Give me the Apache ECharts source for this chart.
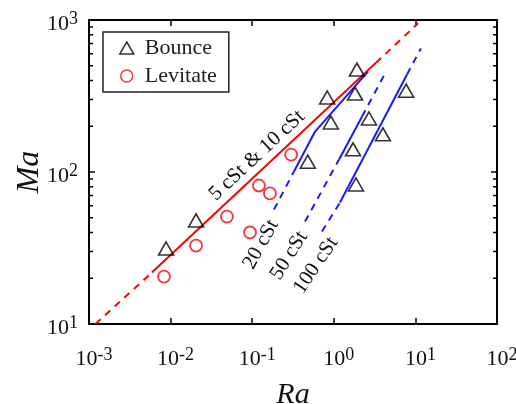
<!DOCTYPE html>
<html><head><meta charset="utf-8">
<script src="https://cdn.jsdelivr.net/npm/echarts@6/dist/echarts.min.js"></script>
<style>html,body{margin:0;padding:0;background:#fff}#c{width:516px;height:404px}</style>
</head><body><div id="c"></div>
<script>
// ---- data ----
const bounceRa = [0.0088, 0.0205, 0.48, 0.83, 0.92, 1.72, 1.82, 1.87, 1.92, 2.7, 4.0, 7.7];
const bounceMa = [31.4, 48, 117, 309, 212, 141, 328, 82.8, 472, 225, 177, 343];
const levRa = [0.0083, 0.0205, 0.049, 0.094, 0.121, 0.165, 0.30];
const levMa = [20.5, 32.8, 50.9, 40, 81.5, 72.3, 130];
// fit curves (Ra, Ma)
const fit5Dash1 = [[0.0012, 10], [0.0059, 21.8]];
const fit5Solid = [[0.0059, 21.8], [3.29, 523]];
const fit5Dash2 = [[3.29, 523], [10.8, 951]];
const fit20Dash = [[0.185, 56.6], [0.325, 100.8]];
const fit20Solid = [[0.325, 100.8], [0.589, 184.5], [2.62, 458]];
const fit50Dash1 = [[0.444, 47.2], [1.16, 120.8]];
const fit50Solid = [[1.16, 120.8], [2.22, 232]];
const fit50Dash2 = [[2.22, 232], [4.12, 431]];
const fit100Dash1 = [[0.716, 40.6], [1.19, 63]];
const fit100Solid = [[1.19, 63], [7.89, 438]];
const fit100Dash2 = [[7.89, 438], [11.7, 650]];
const yMinorTicks = [20, 30, 40, 50, 60, 70, 80, 90, 200, 300, 400, 500, 600, 700, 800, 900];
const lineLabels = [
  {text: '5 cSt & 10 cSt', ra: 0.1146, ma: 128.5, angle: 43},
  {text: '20 cSt', ra: 0.128, ma: 33.4, angle: 61},
  {text: '50 cSt', ra: 0.283, ma: 28.2, angle: 58},
  {text: '100 cSt', ra: 0.605, ma: 24.3, angle: 56}
];

const FONT = "'Liberation Serif','Times New Roman',serif";
const RED = '#ff0000', BLUE = '#1a1aff';
const chart = echarts.init(document.getElementById('c'), null, {renderer: 'canvas'});

function zipPts(a, b) { return a.map((v, i) => [v, b[i]]); }
function expLabel(v) { return '{b|10}{s|' + Math.round(Math.log10(v)) + '}'; }
const richLbl = {
  b: {fontSize: 22, fontFamily: FONT, color: '#111', lineHeight: 27},
  s: {fontSize: 18, fontFamily: FONT, color: '#111', verticalAlign: 'top', lineHeight: 17}
};
function lineSeries(data, color, dashed) {
  return {type: 'line', data: data, symbol: 'none', silent: true, z: 2,
    lineStyle: {color: color, width: 2, type: dashed ? [7, 6] : 'solid'}};
}
const axisCommon = {
  type: 'log', logBase: 10,
  axisLine: {show: true, onZero: false, lineStyle: {color: '#000', width: 2}},
  axisTick: {show: true, inside: true, length: 6, lineStyle: {color: '#000', width: 1.5}},
  splitLine: {show: false}
};

chart.setOption({
  animation: false,
  grid: {left: 89, right: 19, top: 20, bottom: 80, containLabel: false, outerBoundsMode: 'none'},
  legend: {
    orient: 'vertical', left: 103, top: 32,
    padding: [5, 12, 5, 16], itemGap: 6,
    borderColor: '#222', borderWidth: 1.5,
    itemWidth: 14, itemHeight: 12,
    textStyle: {fontFamily: FONT, fontSize: 22, color: '#222', padding: [0, 0, 0, 6]},
    data: [
      {name: 'Bounce', icon: 'triangle', itemStyle: {color: 'transparent', borderColor: '#000', borderWidth: 1.5}},
      {name: 'Levitate', icon: 'circle', itemStyle: {color: 'transparent', borderColor: RED, borderWidth: 1.5}}
    ]
  },
  xAxis: [
    Object.assign({}, axisCommon, {min: 0.001, max: 100, position: 'bottom',
      axisLabel: {formatter: expLabel, rich: richLbl, margin: 22, padding: [0, 0, 0, 10], showMinLabel: true, showMaxLabel: true},
      name: 'Ra', nameLocation: 'middle', nameGap: 56, nameMoveOverlap: false,
      nameTextStyle: {fontFamily: FONT, fontStyle: 'italic', fontSize: 30, color: '#111'}}),
    Object.assign({}, axisCommon, {min: 0.001, max: 100, position: 'top', axisLabel: {show: false}})
  ],
  yAxis: [
    Object.assign({}, axisCommon, {min: 10, max: 1000, position: 'left',
      axisLabel: {formatter: expLabel, rich: richLbl, margin: 11, padding: [8, 0, 0, 0], showMinLabel: true, showMaxLabel: true},
      name: 'Ma', nameLocation: 'middle', nameGap: 43, nameMoveOverlap: false,
      nameTextStyle: {fontFamily: FONT, fontStyle: 'italic', fontSize: 32, color: '#111'}}),
    Object.assign({}, axisCommon, {min: 10, max: 1000, position: 'right', axisLabel: {show: false}})
  ],
  series: [
    lineSeries(fit5Dash1, RED, true),
    lineSeries(fit5Solid, RED, false),
    lineSeries(fit5Dash2, RED, true),
    lineSeries(fit20Dash, BLUE, true),
    lineSeries(fit20Solid, BLUE, false),
    lineSeries(fit50Dash1, BLUE, true),
    lineSeries(fit50Solid, BLUE, false),
    lineSeries(fit50Dash2, BLUE, true),
    lineSeries(fit100Dash1, BLUE, true),
    lineSeries(fit100Solid, BLUE, false),
    lineSeries(fit100Dash2, BLUE, true),
    {name: 'Bounce', type: 'scatter', symbol: 'triangle', symbolSize: [15, 13], z: 3,
      itemStyle: {color: 'transparent', borderColor: '#000', borderWidth: 1.6},
      data: zipPts(bounceRa, bounceMa)},
    {name: 'Levitate', type: 'scatter', symbol: 'circle', symbolSize: 12, z: 3,
      itemStyle: {color: 'transparent', borderColor: RED, borderWidth: 1.8},
      data: zipPts(levRa, levMa)},
    {type: 'custom', silent: true, z: 4, clip: false,
      data: yMinorTicks.map(v => [0.001, v]),
      renderItem: function (params, api) {
        const v = api.value(1);
        const pl = api.coord([0.001, v]);
        const pr = api.coord([100, v]);
        const st = {stroke: '#000', lineWidth: 1.5};
        return {type: 'group', children: [
          {type: 'line', shape: {x1: pl[0], y1: pl[1], x2: pl[0] + 4, y2: pl[1]}, style: st},
          {type: 'line', shape: {x1: pr[0] - 4, y1: pr[1], x2: pr[0], y2: pr[1]}, style: st}
        ]};
      }}
  ]
});

// rotated text labels anchored at data coordinates
const gfx = lineLabels.map(l => {
  const p = chart.convertToPixel({xAxisIndex: 0, yAxisIndex: 0}, [l.ra, l.ma]);
  return {type: 'text', x: p[0], y: p[1], rotation: l.angle * Math.PI / 180, z: 10,
    style: {text: l.text, fontFamily: FONT, fontSize: 21, fill: '#111', align: 'center', verticalAlign: 'middle'}};
});
chart.setOption({graphic: gfx});
</script></body></html>
